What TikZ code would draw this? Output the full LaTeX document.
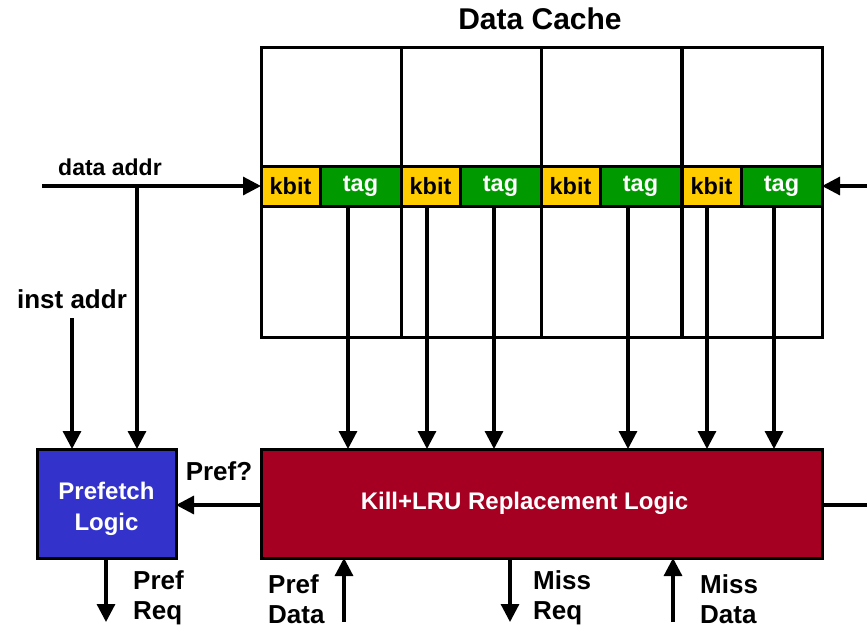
\documentclass[tikz,border=0pt]{standalone}
\usepackage{fontspec}
\setmainfont{Liberation Sans}
\usetikzlibrary{arrows.meta}
\definecolor{kbitcol}{HTML}{FFCC00}
\definecolor{tagcol}{HTML}{009900}
\definecolor{lrucol}{HTML}{A50021}
\definecolor{prefcol}{HTML}{3333CC}
\newcommand{\lw}{3.2pt}
\newcommand{\bigfont}[1]{\fontsize{#1}{30}\selectfont\bfseries}
\tikzset{
  wire/.style={line width=\lw},
  sig/.style={line width=\lw, -{Triangle[width=18pt,length=18pt]}},
  waybox/.style={draw, line width=3pt, minimum width=140pt, minimum height=290pt, inner sep=0pt, outer sep=0pt},
  rowbox/.style={draw, line width=3pt, minimum height=40pt, inner sep=0pt, outer sep=0pt, font=\bigfont{23.5}},
  logic/.style={draw, line width=3pt, text=white, align=center, inner sep=0pt, outer sep=0pt, minimum height=109pt},
  lbl/.style={font=\bigfont{26}, align=left, inner sep=0pt}
}

\begin{document}
\begin{tikzpicture}[x=1pt,y=-1pt]
        \useasboundingbox (0,0) rectangle (867,630);
        % the four ways of the cache
        \foreach \i/\x in {1/261,2/401,3/541,4/682} {
          \node (way\i) at (\x+70,192) [waybox] {};
          \node (kbit\i) at (\x+29.5,186) [rowbox, fill=kbitcol, minimum width=59pt] {kbit};
          \node (tag\i) at (\x+99.5,186) [rowbox, fill=tagcol, text=white, minimum width=81pt] {tag};
        }
        \node (title) at (540,19) [font=\bigfont{30}] {Data Cache};

        \node (lru) at (541.5,503.5) [logic, fill=lrucol, minimum width=561pt,
          label={[text=white, font=\bigfont{24}, xshift=-17pt]center:Kill+LRU Replacement Logic}] {};
        \node (pf) at (106.5,503.5) [logic, fill=prefcol, minimum width=139pt,
          label={[text=white, align=center, font=\fontsize{24}{31}\selectfont\bfseries, yshift=-5pt]center:Prefetch\\Logic}] {};

        % free ends
        \coordinate (dain) at (42,186);
        \coordinate (split) at (137,186);
        \coordinate (instin) at (72,318);
        \coordinate (rin) at (867,186);
        \coordinate (rout) at (867,505);
        \coordinate (prefreq) at (106,622);
        \coordinate (prefdata) at (344,622);
        \coordinate (missreq) at (510,622);
        \coordinate (missdata) at (673,622);

        \draw[sig] (dain) to (kbit1.west);
        \draw[sig] (split) to (split |- pf.north);
        \draw[sig] (instin) to (instin |- pf.north);
        \draw[sig] (rin) to (tag4.east);
        \draw[wire] (lru.east |- rout) to (rout);
        \draw[sig] (lru.west |- 0,505) to (pf.east |- 0,505);
        \draw[sig] (pf.south -| prefreq) to (prefreq);
        \draw[sig] (prefdata) to (prefdata |- lru.south);
        \draw[sig] (missreq |- lru.south) to (missreq);
        \draw[sig] (missdata) to (missdata |- lru.south);

        % tag and kbit lines into the replacement logic
        \foreach \x in {348,427,494,628,707,774}
          \draw[sig] (\x,0 |- tag1.south) to (\x,0 |- lru.north);

            \node (dalbl) at (110,167) [font=\bigfont{23}, inner sep=0pt] {data addr};
            \node (inlbl) at (72,299) [lbl] {inst addr};
            \node (pqlbl) at (219,471) [lbl] {Pref?};
            \node (prlbl) at (133,598) [lbl, anchor=west] {Pref\\Req};
            \node (pdlbl) at (268,599) [lbl, anchor=west] {Pref\\Data};
            \node (mrlbl) at (533,598) [lbl, anchor=west] {Miss\\Req};
            \node (mdlbl) at (700,599) [lbl, anchor=west] {Miss\\Data};
          \end{tikzpicture}
\end{document}
